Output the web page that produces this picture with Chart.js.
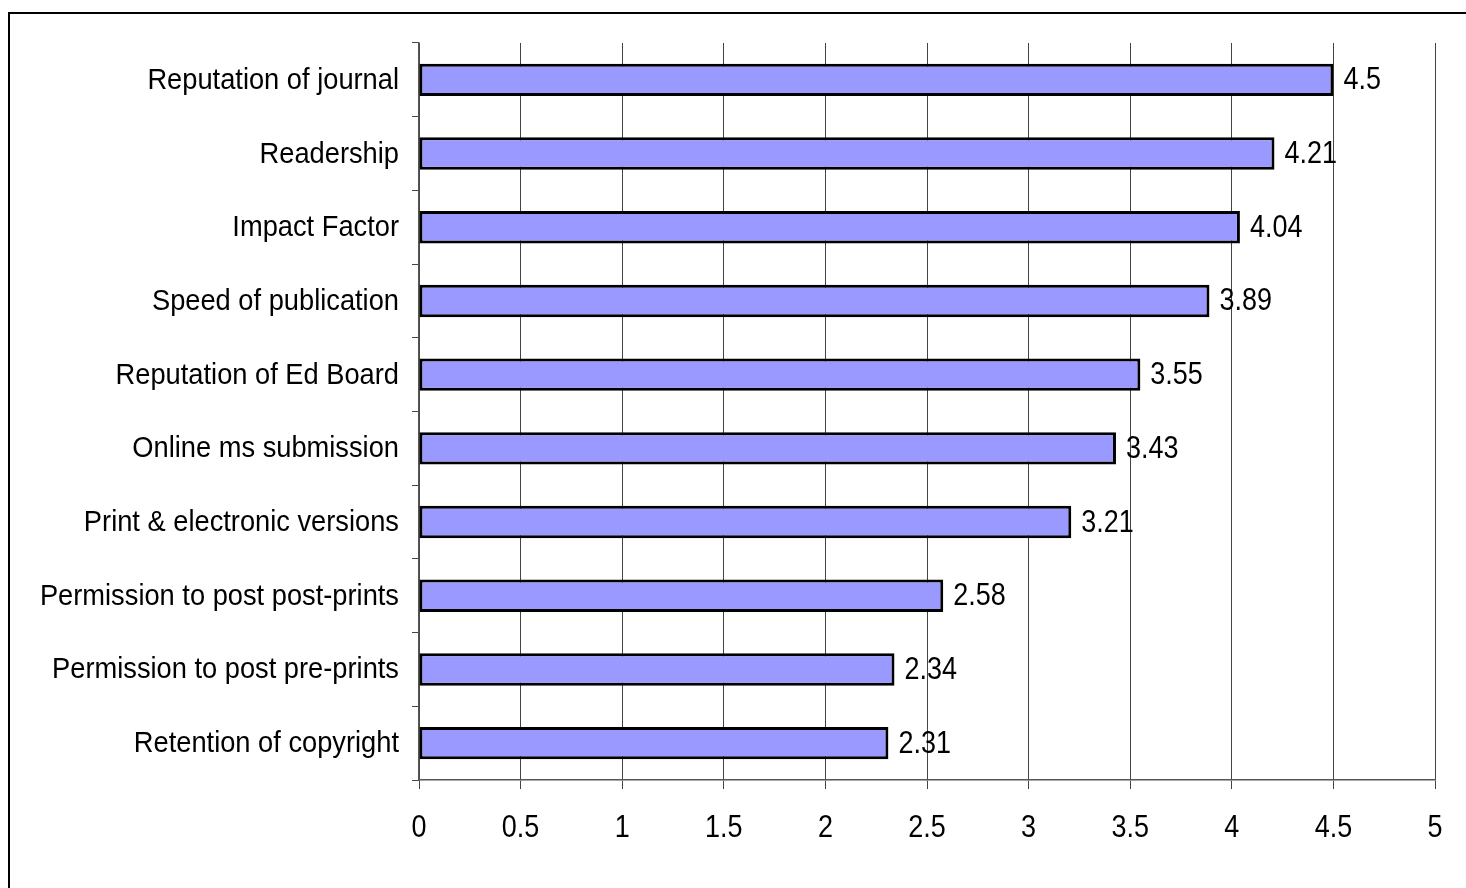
<!DOCTYPE html>
<html><head><meta charset="utf-8">
<script src="https://cdn.jsdelivr.net/npm/chart.js@4.4.0/dist/chart.umd.min.js"></script>
<style>html,body{margin:0;padding:0;background:#fff;}#wrap{position:absolute;left:0;top:0;width:1466px;height:888px;}</style>
</head><body><div id="wrap"><canvas id="c" width="1466" height="888"></canvas></div>
<script>
const categories = ["Reputation of journal","Readership","Impact Factor","Speed of publication","Reputation of Ed Board","Online ms submission","Print & electronic versions","Permission to post post-prints","Permission to post pre-prints","Retention of copyright"];
const values = [4.5,4.21,4.04,3.89,3.55,3.43,3.21,2.58,2.34,2.31];
const valueLabels = ["4.5","4.21","4.04","3.89","3.55","3.43","3.21","2.58","2.34","2.31"];
const xTicks = [0,0.5,1,1.5,2,2.5,3,3.5,4,4.5,5];
const FONT = "'Liberation Sans',Arial,sans-serif";

function condText(ctx, text, x, y, size, align, sx){
  ctx.save();
  ctx.translate(x,y);
  ctx.scale(sx,1);
  ctx.font = size+"px "+FONT;
  ctx.fillStyle='#000';
  ctx.textAlign=align;
  ctx.textBaseline='middle';
  ctx.fillText(text,0,0);
  ctx.restore();
}

const frame = {id:'frame', beforeDraw(chart){const ctx=chart.ctx;ctx.save();ctx.strokeStyle='#000';ctx.lineWidth=2;ctx.strokeRect(9,13,1470,890);ctx.restore();}};
const texts = {id:'texts', afterDraw(chart){
  const ctx=chart.ctx;
  const meta=chart.getDatasetMeta(0);
  const ys=chart.scales.y, xs=chart.scales.x;
  meta.data.forEach((b,i)=>{
    condText(ctx,valueLabels[i],b.x+10,b.y+1,31,'left',0.87);
    condText(ctx,categories[i],399,ys.getPixelForValue(i)+1,29,'right',0.94);
  });
  xTicks.forEach(v=>{condText(ctx,String(v),xs.getPixelForValue(v),828,31,'center',0.87);});
}};

new Chart(document.getElementById('c'),{
  type:'bar',
  data:{labels:categories,datasets:[{data:values,backgroundColor:'#9999FF',borderColor:'#000',borderWidth:3,borderSkipped:false,barPercentage:0.44,categoryPercentage:1}]},
  options:{
    indexAxis:'y',responsive:false,animation:false,
    layout:{padding:{top:43,right:31,bottom:0,left:0}},
    plugins:{legend:{display:false},tooltip:{enabled:false}},
    scales:{
      x:{min:0,max:5,afterBuildTicks(s){s.ticks=xTicks.map(v=>({value:v}));},
        afterFit(s){s.height=108;},
        border:{display:true,color:'#555',width:1.5},
        grid:{color:'#444',lineWidth:1,tickLength:9,tickColor:'#444'},
        ticks:{color:'rgba(0,0,0,0)',font:{size:27,family:FONT},padding:20,maxRotation:0,callback:(v)=>String(v)}},
      y:{afterFit(s){s.width=419;},
        border:{display:true,color:'#555',width:1.5},
        grid:{drawOnChartArea:false,offset:true,tickLength:7,color:'#444'},
        ticks:{color:'rgba(0,0,0,0)',font:{size:28,family:FONT},padding:13}}
    }
  },
  plugins:[frame,texts]
});
</script></body></html>
